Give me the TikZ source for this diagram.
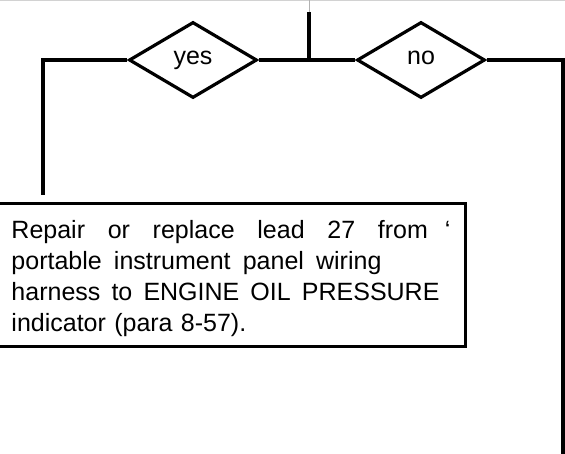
\documentclass[tikz,border=0pt]{standalone}
\usepackage{fontspec}
\setmainfont{Liberation Sans}
\usetikzlibrary{shapes,positioning}

\begin{document}
\begin{tikzpicture}[
        x=1pt, y=1pt,
        decision/.style={draw=black, diamond, aspect=1.68, minimum width=128pt, minimum height=76pt, inner sep=0pt, line width=3.2pt, text height=10pt, text depth=0pt, font=\fontsize{25}{30}\selectfont},
        box/.style={draw=black, line width=3pt, text width=439pt, align=left, minimum width=465pt, minimum height=143pt, inner xsep=15pt, font=\fontsize{25}{31}\selectfont},
        flow/.style={line width=3.4pt}
    ]
        \useasboundingbox (0,0) rectangle (565,-454);
        
        % page edge and the feed from above
        \draw[gray!35, line width=1pt] (0,-0.5) -- (565,-0.5);
        \coordinate (feed) at (309,0);
        \coordinate (top) at (309,-12);
        \coordinate (join) at (309,-60);
        \draw[gray!60, line width=1pt] (feed) -- (top);
        
        \node[decision] (yes) at (193,-60) {yes};
        \node[decision] (no) at (421,-60) {no};
        
        \coordinate (lturn) at (43,-60);
        \coordinate (rturn) at (563,-60);
        \coordinate (rend) at (563,-454);
        
        \node[box, anchor=north west] (repair) at (-5,-202) {%
            \hbox to 439pt{\rule{0pt}{25pt}Repair\hfil\ or\hfil\ replace\hfil\ lead\hfil\ 27\hfil\ from\hskip 17pt`}
            \hbox to 370pt{portable\hfil\ instrument\hfil\ panel\hfil\ wiring}
            \hbox to 428pt{harness\hfil\ to\hfil\ ENGINE\hfil\ OIL\hfil\ PRESSURE}
            indicator (para 8-57).};
        
        \draw[flow] (top) -- (join);
        \draw[flow] (yes.east) -- (no.west);
        \draw[flow] (yes.west) -- (lturn) -- ([yshift=7pt]repair.north -| lturn);
        \draw[flow] (no.east) -- (rturn) -- (rend);
        
    \end{tikzpicture}
\end{document}
